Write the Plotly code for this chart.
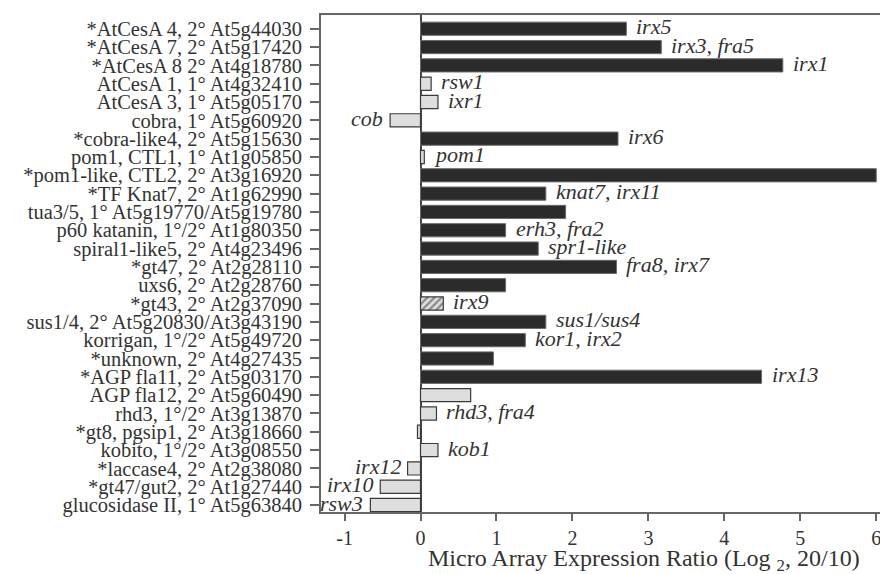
import plotly.graph_objects as go

genes = [
    "*AtCesA 4, 2° At5g44030",
    "*AtCesA 7, 2° At5g17420",
    "*AtCesA 8 2° At4g18780",
    "AtCesA 1, 1° At4g32410",
    "AtCesA 3, 1° At5g05170",
    "cobra, 1° At5g60920",
    "*cobra-like4, 2° At5g15630",
    "pom1, CTL1, 1° At1g05850",
    "*pom1-like, CTL2, 2° At3g16920",
    "*TF Knat7, 2° At1g62990",
    "tua3/5, 1° At5g19770/At5g19780",
    "p60 katanin, 1°/2° At1g80350",
    "spiral1-like5, 2° At4g23496",
    "*gt47, 2° At2g28110",
    "uxs6, 2° At2g28760",
    "*gt43, 2° At2g37090",
    "sus1/4, 2° At5g20830/At3g43190",
    "korrigan, 1°/2° At5g49720",
    "*unknown, 2° At4g27435",
    "*AGP fla11, 2° At5g03170",
    "AGP fla12, 2° At5g60490",
    "rhd3, 1°/2° At3g13870",
    "*gt8, pgsip1, 2° At3g18660",
    "kobito, 1°/2° At3g08550",
    "*laccase4, 2° At2g38080",
    "*gt47/gut2, 2° At1g27440",
    "glucosidase II, 1° At5g63840",
]

ratios = [2.71, 3.17, 4.77, 0.14, 0.23, -0.40, 2.60, 0.05, 6.00, 1.65,
          1.91, 1.12, 1.55, 2.58, 1.12, 0.30, 1.65, 1.38, 0.96, 4.49,
          0.66, 0.21, -0.04, 0.23, -0.17, -0.53, -0.66]

groups = ["dark", "dark", "dark", "light", "light", "light", "dark", "light", "dark", "dark",
          "dark", "dark", "dark", "dark", "dark", "hatched", "dark", "dark", "dark", "dark",
          "light", "light", "light", "light", "light", "light", "light"]

mutants = ["irx5", "irx3, fra5", "irx1", "rsw1", "ixr1", "cob", "irx6", "pom1", "", "knat7, irx11",
           "", "erh3, fra2", "spr1-like", "fra8, irx7", "", "irx9", "sus1/sus4", "kor1, irx2", "", "irx13",
           "", "rhd3, fra4", "", "kob1", "irx12", "irx10", "rsw3"]

x_ticks = [-1, 0, 1, 2, 3, 4, 5, 6]

FONT = "Liberation Serif"

styles = {
    "dark": dict(color="#2b2b2b", line=dict(color="#6a6a6a", width=1)),
    "light": dict(color="#dedede", line=dict(color="#3a3a3a", width=1.2)),
    "hatched": dict(color="#dedede", line=dict(color="#3a3a3a", width=1.2),
                    pattern=dict(shape="/", fgcolor="#333333", bgcolor="#dedede", size=5, solidity=0.45)),
}

fig = go.Figure()
for g in ["dark", "light", "hatched"]:
    ys = [n for n, gg in zip(genes, groups) if gg == g]
    xs = [v for v, gg in zip(ratios, groups) if gg == g]
    fig.add_trace(go.Bar(x=xs, y=ys, orientation="h", marker=styles[g], width=0.72,
                         showlegend=False, hoverinfo="x+y"))

annotations = []
for n, v, m in zip(genes, ratios, mutants):
    if not m:
        continue
    pos = v >= 0
    annotations.append(dict(x=v, y=n, xref="x", yref="y", text="<i>" + m + "</i>",
                            showarrow=False, xanchor="left" if pos else "right",
                            yanchor="middle", xshift=8 if pos else -5, yshift=2,
                            font=dict(family=FONT, size=22, color="#333333")))

annotations.append(dict(x=0.562, y=-0.096, xref="paper", yref="paper",
                        text="Micro Array Expression Ratio (Log <sub>2</sub>, 20/10)",
                        showarrow=False, xanchor="center", yanchor="middle",
                        font=dict(family=FONT, size=24, color="#333333")))

fig.update_layout(
    width=888, height=574,
    margin=dict(l=313, r=0, t=7, b=70),
    paper_bgcolor="white", plot_bgcolor="white",
    font=dict(family=FONT, size=20, color="#333333"),
    annotations=annotations,
)
fig.update_xaxes(
    range=[-1.31, 6.26], tickmode="array", tickvals=x_ticks, ticktext=[str(t) for t in x_ticks],
    showgrid=False, zeroline=True, zerolinecolor="#444444", zerolinewidth=2,
    showline=True, linecolor="#666666", linewidth=2, mirror=True,
    ticks="outside", ticklen=7, tickwidth=2, tickcolor="#666666",
    tickfont=dict(family=FONT, size=20, color="#333333"),
)
fig.update_yaxes(
    categoryorder="array", categoryarray=genes,
    tickmode="array", tickvals=genes, ticktext=genes,
    range=[26.38, -0.75], showgrid=False, zeroline=False,
    showline=True, linecolor="#666666", linewidth=2, mirror=False,
    ticks="outside", ticklen=9, tickwidth=2, tickcolor="#666666",
    ticklabelstandoff=4,
    tickfont=dict(family=FONT, size=20.5, color="#333333"),
)

fig.write_html("out.html")
